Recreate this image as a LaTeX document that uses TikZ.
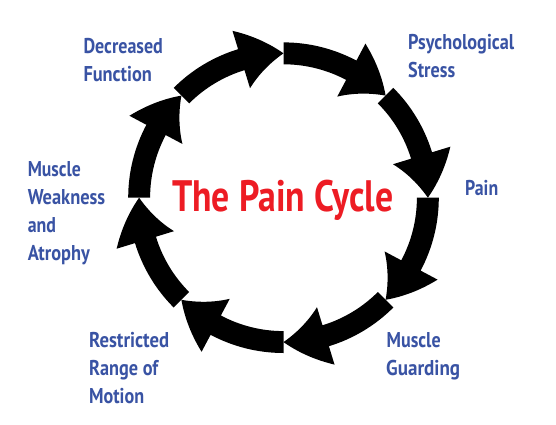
\documentclass[tikz,border=0pt]{standalone}
\usepackage{fontspec}
\usepackage{graphicx}
\setmainfont{PT Sans}
\definecolor{labblue}{RGB}{57,83,164}
\definecolor{titlered}{RGB}{237,28,36}
\newcommand\fw[2]{\resizebox{#1pt}{\height}{#2}}
\begin{document}
\begin{tikzpicture}[x=1pt,y=1pt,
  lab/.style={anchor=base west, inner sep=0pt, text=labblue, font=\bfseries\fontsize{21.4}{28}\selectfont},
  ttl/.style={anchor=base west, inner sep=0pt, text=titlered, font=\bfseries\fontsize{44}{50}\selectfont},
  arr/.style={fill=black}]
\useasboundingbox (0,0) rectangle (556,-425);
\fill[white] (0,0) rectangle (556,-425);
\begin{scope}[shift={(283.5,-197.7)}]
\foreach \a in {90,45,...,-225} {
  \fill[arr] (\a:155.3) arc[start angle=\a, end angle=\a-28, radius=155.3]
    -- plot[domain=0:1,samples=13,variable=\t] ({\a-28-17*\t}:{174.5-30.1*\t})
    -- plot[domain=0:1,samples=13,variable=\t] ({\a-45+17*\t}:{144.4-29.9*\t})
    -- (\a-28:133.4) arc[start angle=\a-28, end angle=\a, radius=133.4] -- cycle;
}
\end{scope}
\node[ttl] (title) at (172,-211) {\fw{221}{The Pain Cycle}};
\node[lab] (dec1) at (83.3,-53.3) {\fw{79.4}{Decreased}};
\node[lab] (dec2) at (83.3,-81.7) {\fw{68.4}{Function}};
\node[lab] (psy1) at (408,-49.3) {\fw{106}{Psychological}};
\node[lab] (psy2) at (408,-77.3) {\fw{47}{Stress}};
\node[lab] (pain) at (465,-195) {\fw{33}{Pain}};
\node[lab] (mg1) at (386.5,-347) {\fw{54}{Muscle}};
\node[lab] (mg2) at (386,-375) {\fw{74}{Guarding}};
\node[lab] (rr1) at (89,-347) {\fw{80}{Restricted}};
\node[lab] (rr2) at (89,-375) {\fw{69}{Range of}};
\node[lab] (rr3) at (89,-403) {\fw{55}{Motion}};
\node[lab] (mw1) at (27.6,-176) {\fw{53}{Muscle}};
\node[lab] (mw2) at (27.6,-204) {\fw{77.4}{Weakness}};
\node[lab] (mw3) at (27.6,-232) {\fw{28.2}{and}};
\node[lab] (mw4) at (27.6,-260) {\fw{62}{Atrophy}};
\end{tikzpicture}
\end{document}
